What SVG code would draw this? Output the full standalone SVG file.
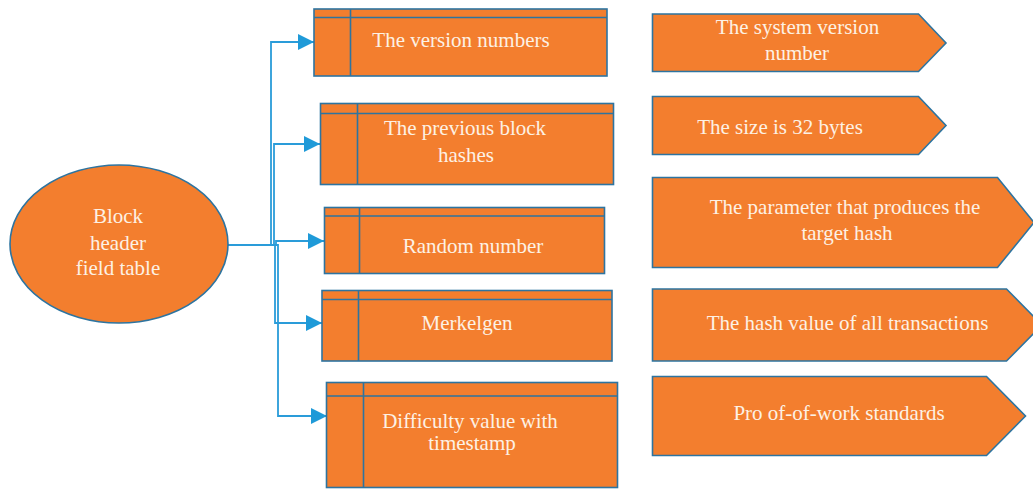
<svg xmlns="http://www.w3.org/2000/svg" width="1033" height="489" viewBox="0 0 1033 489">
<style>
.shape{fill:#F37E2E;stroke:#2D74A0;stroke-width:1.6}
.div{fill:none;stroke:#2D74A0;stroke-width:1.6}
.lbl{font-family:"Liberation Serif","Times New Roman",serif;font-size:21px;fill:#FDF1E4;text-anchor:middle}
.conn{fill:none;stroke:#2A9CD9;stroke-width:1.8}
</style>
<defs>
<marker id="arr" markerUnits="userSpaceOnUse" markerWidth="18" markerHeight="16" refX="16" refY="8" orient="auto">
<path d="M0,0 L16,8 L0,16 Z" fill="#1F9AD8"/>
</marker>
</defs>
<rect width="1033" height="489" fill="#ffffff"/>

<g id="connectors">
<polyline class="conn" points="228,245 271,245 271,42 314,42" marker-end="url(#arr)"/>
<polyline class="conn" points="228,245 274,245 274,144 320,144" marker-end="url(#arr)"/>
<polyline class="conn" points="228,245 276,245 276,241 324,241" marker-end="url(#arr)"/>
<polyline class="conn" points="228,245 275,245 275,323 322,323" marker-end="url(#arr)"/>
<polyline class="conn" points="228,245 278,245 278,416 327,416" marker-end="url(#arr)"/>
</g>

<g id="block-header">
<ellipse class="shape" cx="119" cy="244" rx="109" ry="79"/>
<text class="lbl" x="118" y="223">Block</text>
<text class="lbl" x="118" y="250">header</text>
<text class="lbl" x="118" y="275">field table</text>
</g>

<g id="version-numbers">
<rect class="shape" x="314" y="9" width="293" height="67"/>
<path class="div" d="M314,17.5 H607 M350.5,9 V76"/>
<text class="lbl" x="461" y="47">The version numbers</text>
</g>

<g id="previous-hashes">
<rect class="shape" x="320.5" y="103.5" width="293" height="81"/>
<path class="div" d="M320.5,113.5 H613.5 M357.5,103.5 V184.5"/>
<text class="lbl" x="465" y="135">The previous block</text>
<text class="lbl" x="466" y="161.5">hashes</text>
</g>

<g id="random-number">
<rect class="shape" x="324.5" y="207.5" width="280" height="66"/>
<path class="div" d="M324.5,216 H604.5 M359.5,207.5 V273.5"/>
<text class="lbl" x="473" y="252.5">Random number</text>
</g>

<g id="merkelgen">
<rect class="shape" x="322" y="290.5" width="290" height="70.5"/>
<path class="div" d="M322,299.5 H612 M358.5,290.5 V361"/>
<text class="lbl" x="467" y="330">Merkelgen</text>
</g>

<g id="difficulty">
<rect class="shape" x="326.5" y="382.5" width="291" height="105"/>
<path class="div" d="M326.5,396 H617.5 M363.5,382.5 V487.5"/>
<text class="lbl" x="470" y="427.5">Difficulty value with</text>
<text class="lbl" x="472" y="450">timestamp</text>
</g>

<g id="system-version">
<polygon class="shape" points="652.5,14 918.5,14 946,43 918.5,71.5 652.5,71.5"/>
<text class="lbl" x="797.5" y="33.5">The system version</text>
<text class="lbl" x="797" y="60">number</text>
</g>

<g id="size-32">
<polygon class="shape" points="652.5,96.5 918.5,96.5 946,125.5 918.5,154.5 652.5,154.5"/>
<text class="lbl" x="780" y="133.5">The size is 32 bytes</text>
</g>

<g id="parameter">
<polygon class="shape" points="652.5,177.5 997.5,177.5 1034,222.5 997.5,267.5 652.5,267.5"/>
<text class="lbl" x="845" y="213.5">The parameter that produces the</text>
<text class="lbl" x="847" y="239.5">target hash</text>
</g>

<g id="hash-value">
<polygon class="shape" points="652.5,289 1006.5,289 1042,325 1006.5,361 652.5,361"/>
<text class="lbl" x="847.5" y="330">The hash value of all transactions</text>
</g>

<g id="pow">
<polygon class="shape" points="652.5,376.5 986.5,376.5 1025.5,416 986.5,455.5 652.5,455.5"/>
<text class="lbl" x="839" y="420">Pro of-of-work standards</text>
</g>
</svg>
